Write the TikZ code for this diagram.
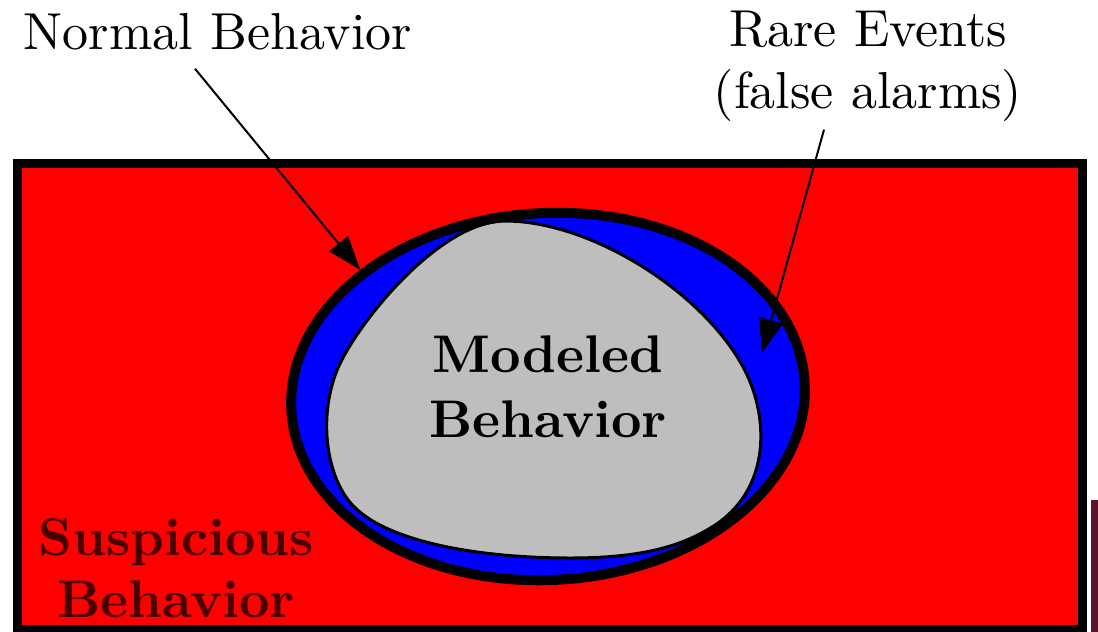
\documentclass[tikz,border=0pt]{standalone}
\usepackage{fontspec}
\setmainfont{lmroman10-regular}[Extension=.otf, BoldFont=lmroman10-bold]
\usepackage{xcolor}
\usepackage{tikz}
\usetikzlibrary{arrows.meta,shapes.geometric}
\definecolor{modelgray}{RGB}{190,190,190}
\definecolor{suspred}{RGB}{70,0,0}
\definecolor{slidemaroon}{RGB}{92,20,44}
\tikzset{
  callout/.style={
    align=center,
    font=\fontsize{26}{31}\selectfont,
    inner sep=0pt
  },
  region/.style={
    align=center,
    font=\fontsize{26.5}{32.5}\selectfont\bfseries,
    inner sep=0pt
  },
  pointer/.style={-{Triangle[length=17pt,width=12pt]}, line width=1pt},
  ring/.style={
    ellipse,
    minimum width=257pt,
    minimum height=183.5pt,
    inner sep=0pt,
    rotate=3
  },
  blob/.style={draw, line width=1.5pt, fill=modelgray}
}
\begin{document}
\begin{tikzpicture}[x=0.5pt,y=-0.5pt]
  \useasboundingbox (0,0) rectangle (1098,632);

  % suspicious region
  \draw[line width=4.5pt, fill=red] (17,163) rectangle (1082,629);
  \fill[slidemaroon] (1091,500) rectangle (1098,632);

  % normal behavior
  \node[ring, fill=blue] (normalfill) at (548,396.5) {};
  \draw[blob] (505,221) .. controls (590,221) and (700,290) .. (742,365)
    .. controls (770,415) and (772,490) .. (712,527)
    .. controls (680,547) and (640,558) .. (570,558)
    .. controls (480,558) and (376,542) .. (346,497)
    .. controls (324,465) and (320,410) .. (338,368)
    .. controls (358,322) and (440,221) .. cycle;
  \node[ring, draw, line width=5pt] (normal) at (normalfill) {};

  \node[region] (modeled) at (548,387) {Modeled\\Behavior};
  \node[region, text=suspred, font=\fontsize{26.5}{31}\selectfont\bfseries]
    (suspicious) at (176,568) {Suspicious\\Behavior};

  % labels
  \node[callout] (normallabel) at (218,32) {Normal Behavior};
  \node[callout] (rarelabel) at (868,66) {Rare Events\\(false alarms)};
  \coordinate (falsealarm) at (762,353);

  \draw[pointer] ([xshift=-11.5pt,yshift=-9pt]normallabel.south) -- (normal.143);
  \draw[pointer] ([xshift=-22pt,yshift=-4pt]rarelabel.south) -- (falsealarm);
\end{tikzpicture}
\end{document}
